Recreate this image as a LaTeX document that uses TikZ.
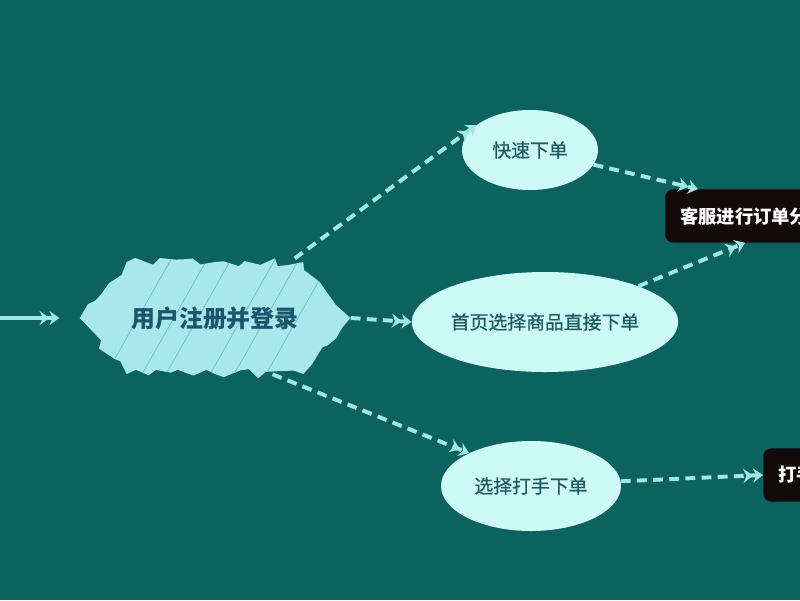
\documentclass[tikz,border=0pt]{standalone}
\usepackage{fontspec}
\newfontfamily\cjk{Noto Sans CJK SC}
\newfontfamily\cjkmid[FakeBold=0.6]{Noto Sans CJK SC}
\usetikzlibrary{positioning, arrows.meta, shapes.geometric, shapes.symbols, decorations.pathmorphing, calc}
\definecolor{bgTeal}{HTML}{0B625F}
\definecolor{paleCyan}{HTML}{CDF9F6}
\definecolor{sketchCyan}{HTML}{A8E8EC}
\definecolor{hatchCyan}{HTML}{6FC3CC}
\definecolor{linkCyan}{HTML}{A2E7E6}
\definecolor{textTeal}{HTML}{1E5A62}
\definecolor{regTeal}{HTML}{1B566C}
\definecolor{boxBlack}{HTML}{130B0B}

\begin{document}
\begin{tikzpicture}[
    every node/.style={font=\cjk},
    flow/.style={draw=linkCyan, line width=2.8pt, dash pattern=on 7pt off 4.5pt,
                 -{Stealth[length=7pt,width=10pt]Stealth[length=7pt,width=10pt]}},
    bubble/.style={ellipse, fill=paleCyan, text=textTeal, inner sep=0pt,
                   font=\cjkmid\fontsize{13.4}{16}\selectfont},
    darkbox/.style={fill=boxBlack, rounded corners=0.2cm, text=white, anchor=west,
                    minimum height=1.33cm, inner xsep=0.375cm,
                    font=\cjk\bfseries\fontsize{13}{16}\selectfont},
    sketch/.style={signal, signal to=west and east, signal pointer angle=100,
                   fill=sketchCyan, minimum width=6.75cm, minimum height=2.8cm,
                   decorate, decoration={random steps, segment length=8pt, amplitude=3.5pt}},
    hatchline/.style={draw=hatchCyan, line width=0.6pt}
  ]
  % Hintergrund
  \fill[bgTeal] (0,0) rectangle (20,-15);
  \useasboundingbox (0,0) rectangle (20,-15);
  \clip (0,0) rectangle (20,-15);

  \node[sketch, text=regTeal, font=\cjk\bfseries\fontsize{17}{20}\selectfont,
        path picture={
          \foreach \d in {0.6,1.5,2.1,3.2,3.8,4.6}
            \draw[hatchline] ($(path picture bounding box.south west)+(\d,0)$) -- ++(1.7,3);
        }] (reg) at (5.375,-7.95) {用户注册并登录};

  \node[bubble, minimum width=3.4cm, minimum height=2cm] (quick) at (13.25,-3.75) {快速下单};
  \node[bubble, minimum width=6.6cm, minimum height=2.5cm] (home) at (13.625,-8.05) {首页选择商品直接下单};
  \node[bubble, minimum width=4.5cm, minimum height=2.25cm] (choose) at (13.275,-12.15) {选择打手下单};

  \node[darkbox] (svc) at (16.625,-5.4) {客服进行订单分};
  \node[darkbox] (ds) at (19.075,-11.875) {打手};

  \coordinate (in) at (0,-7.95);

  \draw[flow, dash pattern=, line width=2.4pt, shorten >=0.5cm] (in) -- (reg.west);
  \draw[flow, shorten <=4pt] ($(reg.north)!0.85!(reg.north east)$) -- (quick.155);
  \draw[flow] (reg.east) -- (home.west);
  \draw[flow] ($(reg.south)!0.65!(reg.south east)$) -- (choose.152);
  \draw[flow] (quick.-13) -- ($(svc.north west)+(0.825,0)$);
  \draw[flow] (home.21) -- ($(svc.south west)+(2,0)$);
  \draw[flow] (choose.3) -- (ds.west);
\end{tikzpicture}
\end{document}
